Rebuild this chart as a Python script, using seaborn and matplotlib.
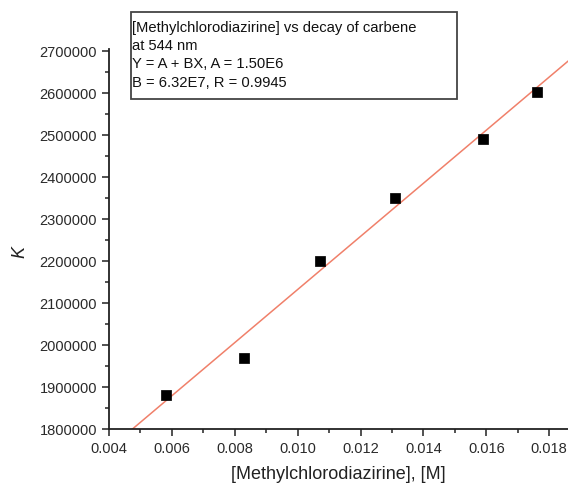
import matplotlib
matplotlib.use("Agg")
import matplotlib.pyplot as plt
import seaborn as sns
import numpy as np
import pandas as pd
from matplotlib.ticker import MultipleLocator, FormatStrFormatter

conc = [0.0058, 0.0083, 0.0107, 0.0131, 0.0159, 0.0176]
kobs = [1880000, 1970000, 2200000, 2350000, 2490000, 2603000]
fit_A = 1.50e6
fit_B = 6.32e7
fit_x = [0.0047, 0.0195]
x_ticks = [0.004, 0.006, 0.008, 0.010, 0.012, 0.014, 0.016, 0.018]
y_ticks = [1800000, 1900000, 2000000, 2100000, 2200000, 2300000, 2400000, 2500000, 2600000, 2700000]

sns.set_style("ticks")
plt.rcParams['font.family'] = ['Liberation Sans', 'DejaVu Sans']

W, H = 568, 485
fig = plt.figure(figsize=(W/100, H/100), dpi=100)
ax = fig.add_axes([109/W, 1 - 430/H, 1 - 109/W, (430 - 50)/H])

df = pd.DataFrame({"x": conc, "y": kobs})
fit_df = pd.DataFrame({"x": fit_x, "y": [fit_A + fit_B * v for v in fit_x]})
sns.lineplot(data=fit_df, x="x", y="y", ax=ax, color="#f0806a", lw=1.1, zorder=2)
sns.scatterplot(data=df, x="x", y="y", ax=ax, marker="s", s=42, color="black",
                edgecolor="black", zorder=3)

ax.set_xlim(0.004, 0.0186)
ax.set_ylim(1800000, 2704500)
ax.set_xticks(x_ticks)
ax.set_yticks(y_ticks)
ax.xaxis.set_major_formatter(FormatStrFormatter('%.3f'))
ax.yaxis.set_major_formatter(FormatStrFormatter('%d'))
ax.xaxis.set_minor_locator(MultipleLocator(0.001))
ax.yaxis.set_minor_locator(MultipleLocator(50000))
ax.tick_params(axis='both', which='major', length=5, width=1.1, labelsize=10.5,
               colors='#222222', labelcolor='#2a2a2a')
ax.tick_params(axis='both', which='minor', length=3, width=1.1, colors='#222222')
for s in ['top', 'right']:
    ax.spines[s].set_visible(False)
for s in ['left', 'bottom']:
    ax.spines[s].set_linewidth(1.3)
    ax.spines[s].set_color('#222222')

ax.set_xlabel("[Methylchlorodiazirine], [M]", fontsize=13, color='#222222')
ax.set_ylabel("K", fontsize=13, style='italic', color='#222222')
ax.xaxis.set_label_coords(0.5, -(475 - 430)/380, transform=ax.transAxes)
ax.yaxis.set_label_coords(20/W, 1 - 252/H, transform=fig.transFigure)
ax.xaxis.label.set_va('center')
ax.yaxis.label.set_va('center')

fig.text(132/W, 1 - 21/H,
         "[Methylchlorodiazirine] vs decay of carbene\nat 544 nm\nY = A + BX, A = 1.50E6\nB = 6.32E7, R = 0.9945",
         fontsize=10.6, va='top', ha='left', linespacing=1.38, color='#111111')
rect = plt.Rectangle((131/W, 1 - 100/H), (457 - 131)/W, (100 - 13)/H,
                     transform=fig.transFigure, fill=False, edgecolor='#444444', lw=1.3)
fig.patches.append(rect)

fig.savefig("out.png", dpi=100)
